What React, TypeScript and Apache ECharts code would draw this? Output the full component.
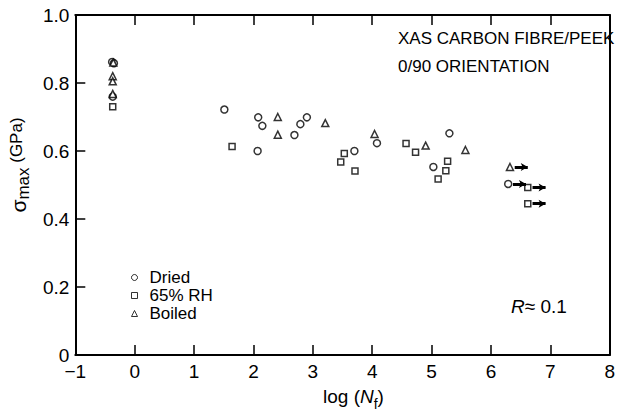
import React, { useEffect, useRef } from "react";
import * as echarts from "echarts";

const FONT = "'Liberation Sans', Arial, sans-serif";

const seriesNames = ["Dried", "65% RH", "Boiled"];
const xTicks = { min: -1, max: 8, interval: 1 };
const yTicks = { min: 0, max: 1, interval: 0.2 };

const dried: number[][] = [
  [-0.38, 0.862], [-0.35, 0.858], [-0.37, 0.760], [1.51, 0.722], [2.08, 0.699],
  [2.15, 0.674], [2.07, 0.600], [2.69, 0.647], [2.79, 0.679], [2.90, 0.699],
  [3.70, 0.600], [4.08, 0.623], [5.03, 0.553], [5.30, 0.652], [6.29, 0.503],
];
const humid: number[][] = [
  [-0.37, 0.730], [1.64, 0.613], [3.53, 0.593], [3.47, 0.568], [3.71, 0.541],
  [4.57, 0.622], [4.73, 0.596], [5.27, 0.570], [5.24, 0.542], [5.11, 0.518],
  [6.62, 0.493], [6.62, 0.445],
];
const boiled: number[][] = [
  [-0.36, 0.860], [-0.37, 0.820], [-0.37, 0.805], [-0.37, 0.768], [2.41, 0.700],
  [2.41, 0.648], [3.21, 0.682], [4.04, 0.650], [4.90, 0.616], [5.57, 0.603],
  [6.32, 0.553],
];
// run-outs (unbroken specimens), arrow drawn to the right of the point
const runouts: number[][] = [[6.29, 0.503], [6.32, 0.553], [6.62, 0.493], [6.62, 0.445]];
const arrowStart = 0.08;
const arrowEnd = 0.3;

export default function App() {
  const ref = useRef<HTMLDivElement>(null);
  useEffect(() => {
    if (!ref.current) return;
    const chart = echarts.init(ref.current, null, { renderer: "svg" });
    const axisLine = { show: true, onZero: false, lineStyle: { color: "#000", width: 2 } };
    const tick = { show: true, inside: true, length: 10, lineStyle: { color: "#000", width: 1.5 } };
    const mkItem = { color: "#fff", borderColor: "#000", borderWidth: 1.5 };
    const option: any = {
      animation: false,
      backgroundColor: "#fff",
      grid: { left: 69, right: 3, top: 15, bottom: 58 },
      xAxis: [
        {
          type: "value", ...xTicks, position: "bottom",
          axisLine, axisTick: tick, splitLine: { show: false },
          axisLabel: {
            color: "#000", fontSize: 19, fontFamily: FONT, margin: 7,
            formatter: (v: number) => (v < 0 ? "\u2212" + Math.abs(v) : String(v)),
          },
          name: "{a|log (}{i|N}{s|f}{a|)}",
          nameLocation: "middle", nameGap: 32,
          nameTextStyle: {
            padding: [0, 0, 0, 22],
            rich: {
              a: { fontSize: 19, fontFamily: FONT, color: "#000", lineHeight: 24, verticalAlign: "top" },
              i: { fontSize: 19, fontFamily: FONT, fontStyle: "italic", color: "#000", lineHeight: 24, verticalAlign: "top" },
              s: { fontSize: 14, fontFamily: FONT, color: "#000", lineHeight: 14, verticalAlign: "bottom" },
            },
          },
        },
        {
          type: "value", ...xTicks, position: "top",
          axisLine, axisTick: tick, splitLine: { show: false }, axisLabel: { show: false },
        },
      ],
      yAxis: [
        {
          type: "value", ...yTicks, position: "left",
          axisLine, axisTick: tick, splitLine: { show: false },
          axisLabel: {
            color: "#000", fontSize: 19, fontFamily: FONT, margin: 6,
            formatter: (v: number) => (v === 0 ? "0" : v.toFixed(1)),
          },
          name: "{a|\u03c3}{s|max}{b| (GPa)}",
          nameLocation: "middle", nameRotate: 90, nameGap: 40,
          nameTextStyle: {
            padding: [0, 0, 0, 40],
            rich: {
              a: { fontSize: 21, fontFamily: FONT, color: "#000", lineHeight: 24, verticalAlign: "top" },
              s: { fontSize: 17, fontFamily: FONT, color: "#000", lineHeight: 17, verticalAlign: "bottom" },
              b: { fontSize: 17, fontFamily: FONT, color: "#000", lineHeight: 24, verticalAlign: "top" },
            },
          },
        },
        {
          type: "value", ...yTicks, position: "right",
          axisLine, axisTick: { show: false }, splitLine: { show: false }, axisLabel: { show: false },
        },
      ],
      legend: {
        data: seriesNames,
        orient: "vertical",
        left: 126, top: 264,
        itemWidth: 6, itemHeight: 6, itemGap: 1,
        itemStyle: { borderWidth: 1 },
        textStyle: { color: "#000", fontSize: 17, fontFamily: FONT, lineHeight: 16, padding: [0, 0, 0, 7] },
        selectedMode: false,
      },
      series: [
        { name: seriesNames[0], type: "scatter", symbol: "circle", symbolSize: 7, itemStyle: mkItem, data: dried, z: 3 },
        { name: seriesNames[1], type: "scatter", symbol: "rect", symbolSize: 6, itemStyle: mkItem, data: humid, z: 3 },
        { name: seriesNames[2], type: "scatter", symbol: "triangle", symbolSize: 7, itemStyle: mkItem, data: boiled, z: 3 },
        {
          name: "runout", type: "line", data: [], z: 2,
          markLine: {
            silent: true, animation: false,
            symbol: ["none", "arrow"], symbolSize: [6, 7],
            label: { show: false },
            lineStyle: { color: "#000", width: 3, type: "solid" },
            data: runouts.map((p) => [{ coord: [p[0] + arrowStart, p[1]] }, { coord: [p[0] + arrowEnd, p[1]] }]),
          },
        },
      ],
      graphic: [
        { type: "text", left: 398, top: 30, style: { text: "XAS CARBON FIBRE/PEEK", font: `17px ${FONT}`, fill: "#000" } },
        { type: "text", left: 398, top: 58, style: { text: "0/90 ORIENTATION", font: `17px ${FONT}`, fill: "#000" } },
        {
          type: "text", left: 511, top: 297,
          style: {
            text: "{r|R}{a|\u2248 0.1}",
            rich: {
              r: { font: `italic 19px ${FONT}`, fill: "#000" },
              a: { font: `19px ${FONT}`, fill: "#000" },
            },
          },
        },
      ],
    };
    chart.setOption(option);
    return () => chart.dispose();
  }, []);
  return <div ref={ref} style={{ position: "fixed", left: 0, top: 0, width: 618, height: 416 }} />;
}
